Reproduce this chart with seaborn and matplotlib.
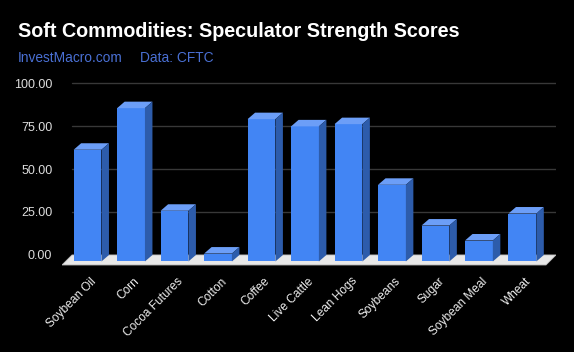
import matplotlib
matplotlib.use("Agg")
import matplotlib.pyplot as plt
import matplotlib.transforms as mtrans
import seaborn as sns
import numpy as np
from matplotlib.patches import Polygon

# data
commodities = ['Soybean Oil', 'Corn', 'Cocoa Futures', 'Cotton', 'Coffee', 'Live Cattle',
               'Lean Hogs', 'Soybeans', 'Sugar', 'Soybean Meal', 'Wheat']
scores = [65.0, 89.2, 29.5, 4.6, 82.8, 78.6, 79.9, 44.6, 20.9, 12.2, 27.9]
y_ticks = [0, 25, 50, 75, 100]

FRONT = '#4285f4'
TOP = '#6c9ef7'
SIDE = '#2d5cab'
FLOOR = '#e8e8e8'

sns.set_theme(style='dark')
plt.rcParams['font.family'] = ['Liberation Sans', 'DejaVu Sans']

W, H = 574, 352
fig = plt.figure(figsize=(W / 100, H / 100), dpi=100, facecolor='black')
# axes box in pixels: x 62..556, y 80..267
ax = fig.add_axes([62 / W, 1 - 267 / H, (556 - 62) / W, (267 - 80) / H])
ax.set_facecolor('black')

sns.barplot(x=commodities, y=scores, color=FRONT, width=0.64, saturation=1,
            edgecolor='none', linewidth=0, ax=ax, zorder=3)

ax.set_xlim(-0.76, 10.6)
ax.set_ylim(-7, 101.8)

# depth of the fake 3d effect, in pixels -> data units
fig.canvas.draw()
inv = ax.transData.inverted()
o = inv.transform(ax.transData.transform((0, 0)) + np.array([7.5, 6.5]))
dx, dy = o[0], o[1]
fo = inv.transform(ax.transData.transform((0, 0)) + np.array([10, 10]))
fdx, fdy = fo[0], fo[1]

# gridlines on the back wall
x0, x1 = -0.53, 10.6
for t in y_ticks[1:]:
    ax.plot([x0, x1], [t, t], color='#383838', lw=1, zorder=1)

# floor
ax.add_patch(Polygon([(x0, 0), (x1, 0), (x1 - fdx, -fdy), (x0 - fdx, -fdy)],
                     closed=True, facecolor=FLOOR, edgecolor='#bdbdbd', lw=0.6, zorder=2))

for bar, v in zip(ax.patches[:len(scores)], scores):
    bx, bw = bar.get_x() - dx, bar.get_width()
    bar.set_x(bx)
    bar.set_y(-dy)
    bar.set_height(v)
    front_top = v - dy
    ax.add_patch(Polygon([(bx, front_top), (bx + bw, front_top), (bx + bw + dx, v), (bx + dx, v)],
                         closed=True, facecolor=TOP, edgecolor='none', zorder=3))
    ax.add_patch(Polygon([(bx + bw, -dy), (bx + bw + dx, 0), (bx + bw + dx, v), (bx + bw, front_top)],
                         closed=True, facecolor=SIDE, edgecolor='none', zorder=3))

ax.set_yticks(y_ticks)
ax.set_yticklabels([f'{t:.2f}' for t in y_ticks], color='#dddddd', fontsize=9)
ax.tick_params(axis='y', length=0, pad=7)
ax.tick_params(axis='x', length=0, pad=6)
ax.set_xticks(range(len(commodities)))
ax.set_xticklabels(commodities, rotation=45, ha='right', rotation_mode='anchor',
                   color='#eeeeee', fontsize=8.6)
shift = mtrans.ScaledTranslation(-5 / 100, 0, fig.dpi_scale_trans)
for lab in ax.get_xticklabels():
    lab.set_transform(lab.get_transform() + shift)
ax.grid(False)
for s in ax.spines.values():
    s.set_visible(False)

fig.text(18 / W, 1 - 37 / H, 'Soft Commodities: Speculator Strength Scores',
         color='white', fontsize=14.2, fontweight='bold', ha='left', va='baseline')
fig.text(18 / W, 1 - 62 / H, 'InvestMacro.com', color='#4a70d4', fontsize=9.9,
         ha='left', va='baseline')
fig.text(140 / W, 1 - 62 / H, 'Data: CFTC', color='#4a70d4', fontsize=9.9,
         ha='left', va='baseline')

fig.savefig('out.png', dpi=100, facecolor='black')
